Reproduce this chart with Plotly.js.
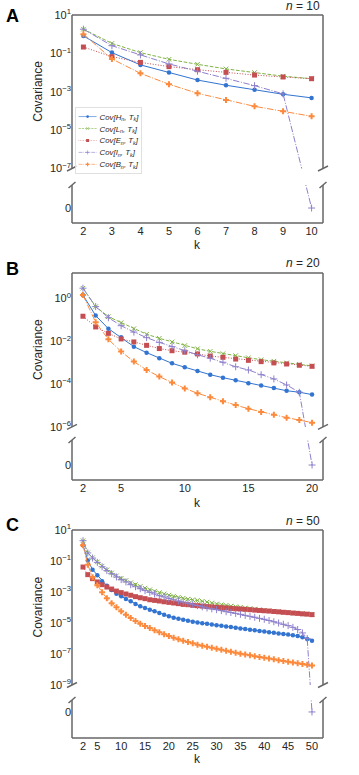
<!DOCTYPE html>
<html>
<head>
<meta charset="utf-8">
<script src="https://cdn.plot.ly/plotly-3.0.1.min.js"></script>
<style>
  html, body { margin: 0; padding: 0; background: #fff; }
  #chart { width: 359px; height: 775px; }
</style>
</head>
<body>
<div id="chart"></div>
<script>
// values are log10 of the covariance; -Infinity is an exact 0
const kN10 = [2, 3, 4, 5, 6, 7, 8, 9, 10];
const logH10 = [-0.09, -0.96, -1.60, -2.00, -2.39, -2.66, -2.90, -3.13, -3.32];
const logL10 = [0.26, -0.48, -0.96, -1.31, -1.57, -1.81, -2.00, -2.19, -2.32];
const logE10 = [-0.67, -1.17, -1.47, -1.69, -1.85, -1.99, -2.13, -2.23, -2.32];
const logI10 = [0.26, -0.60, -1.08, -1.55, -1.93, -2.30, -2.68, -3.11, -Infinity];
const logB10 = [0.00, -1.29, -2.04, -2.61, -3.08, -3.43, -3.76, -4.02, -4.28];

const kN20 = [2, 3, 4, 5, 6, 7, 8, 9, 10, 11, 12, 13, 14, 15, 16, 17, 18, 19, 20];
const logH20 = [0.16, -0.80, -1.41, -1.81, -2.25, -2.53, -2.79, -3.03, -3.21, -3.39,
  -3.56, -3.70, -3.82, -3.96, -4.07, -4.18, -4.31, -4.38, -4.49];
const logL20 = [0.48, -0.38, -0.85, -1.13, -1.41, -1.67, -1.86, -2.03, -2.20, -2.35,
  -2.47, -2.58, -2.67, -2.77, -2.86, -2.93, -3.01, -3.08, -3.15];
const logE20 = [-0.83, -1.33, -1.63, -1.89, -2.03, -2.19, -2.34, -2.44, -2.51, -2.59,
  -2.69, -2.75, -2.83, -2.89, -2.95, -3.01, -3.06, -3.12, -3.17];
const logI20 = [0.48, -0.38, -0.90, -1.27, -1.57, -1.83, -2.05, -2.25, -2.44, -2.63,
  -2.79, -2.98, -3.19, -3.34, -3.56, -3.76, -4.04, -4.38, -Infinity];
const logB20 = [0.16, -1.11, -1.91, -2.48, -2.95, -3.34, -3.65, -3.93, -4.20, -4.43,
  -4.62, -4.80, -4.98, -5.15, -5.30, -5.43, -5.57, -5.68, -5.80];

const kN50 = [2, 3, 4, 5, 6, 7, 8, 9, 10, 11, 12, 13, 14, 15, 16, 17, 18, 19, 20, 21,
  22, 23, 24, 25, 26, 27, 28, 29, 30, 31, 32, 33, 34, 35, 36, 37, 38, 39, 40, 41,
  42, 43, 44, 45, 46, 47, 48, 49, 50];
const logH50 = [0.02, -0.96, -1.56, -1.92, -2.31, -2.60, -2.87, -3.11, -3.28, -3.45,
  -3.60, -3.77, -3.92, -4.03, -4.14, -4.25, -4.35, -4.46, -4.57, -4.66,
  -4.72, -4.79, -4.85, -4.92, -4.96, -5.01, -5.05, -5.10, -5.14, -5.18,
  -5.22, -5.26, -5.31, -5.35, -5.39, -5.43, -5.47, -5.51, -5.55, -5.59,
  -5.63, -5.67, -5.71, -5.75, -5.79, -5.84, -5.92, -6.03, -6.14];
const logL50 = [0.31, -0.47, -0.79, -1.06, -1.33, -1.57, -1.77, -1.96, -2.12, -2.26,
  -2.40, -2.52, -2.64, -2.75, -2.85, -2.95, -3.04, -3.12, -3.20, -3.27,
  -3.34, -3.40, -3.46, -3.50, -3.54, -3.60, -3.65, -3.71, -3.77, -3.82,
  -3.86, -3.91, -3.95, -3.99, -4.03, -4.07, -4.10, -4.14, -4.18, -4.21,
  -4.24, -4.27, -4.30, -4.32, -4.35, -4.38, -4.40, -4.42, -4.44];
const logE50 = [-1.39, -1.88, -2.14, -2.35, -2.53, -2.68, -2.81, -2.94, -3.04, -3.13,
  -3.21, -3.30, -3.37, -3.43, -3.50, -3.54, -3.58, -3.63, -3.67, -3.71,
  -3.75, -3.80, -3.82, -3.86, -3.88, -3.91, -3.94, -3.96, -3.99, -4.01,
  -4.03, -4.06, -4.08, -4.10, -4.12, -4.14, -4.17, -4.19, -4.21, -4.23,
  -4.26, -4.28, -4.31, -4.33, -4.36, -4.38, -4.41, -4.43, -4.46];
const logI50 = [0.31, -0.48, -0.81, -1.09, -1.37, -1.62, -1.82, -2.03, -2.20, -2.35,
  -2.53, -2.66, -2.79, -2.91, -3.02, -3.13, -3.24, -3.32, -3.41, -3.50,
  -3.58, -3.65, -3.73, -3.79, -3.88, -3.96, -4.03, -4.09, -4.14, -4.20,
  -4.27, -4.32, -4.38, -4.44, -4.51, -4.57, -4.63, -4.70, -4.76, -4.84,
  -4.92, -5.00, -5.08, -5.17, -5.28, -5.42, -5.64, -6.00, -Infinity];
const logB50 = [0.01, -1.24, -2.05, -2.57, -3.02, -3.41, -3.73, -3.99, -4.25, -4.46,
  -4.68, -4.87, -5.05, -5.19, -5.32, -5.47, -5.60, -5.73, -5.84, -5.95,
  -6.05, -6.14, -6.23, -6.31, -6.40, -6.47, -6.54, -6.60, -6.66, -6.73,
  -6.79, -6.85, -6.92, -6.98, -7.03, -7.08, -7.14, -7.19, -7.24, -7.29,
  -7.34, -7.40, -7.45, -7.50, -7.55, -7.60, -7.65, -7.70, -7.75];

const seriesNames = [
  '<i>Cov[H<sub>n</sub>, T<sub>k</sub>]</i>',
  '<i>Cov[L<sub>n</sub>, T<sub>k</sub>]</i>',
  '<i>Cov[E<sub>n</sub>, T<sub>k</sub>]</i>',
  '<i>Cov[I<sub>n</sub>, T<sub>k</sub>]</i>',
  '<i>Cov[B<sub>n</sub>, T<sub>k</sub>]</i>',
];

const FONT = 'Liberation Sans, Arial, sans-serif';
const TEXT = '#262626';
const FRAME = '#666666';
const W = 359, H = 775, PL = 72, PR = 36;
const LEGEND_LEFT = 75, LEGEND_TOP = 107, LEGEND_SCALE = 0.6;

// matplotlib-ish dash patterns for lw 1
const styles = [
  { color: '#3274d0', dash: 'solid', symbol: 'circle', size: 4.5 },
  { color: '#7fb343', dash: '3.7px,1.6px', symbol: 'x-thin-open', size: 4.5 },
  { color: '#c44e52', dash: '1px,1.65px', symbol: 'square', size: 5 },
  { color: '#8e80cc', dash: '6.4px,1.6px,1px,1.6px', symbol: 'cross-thin-open', size: 5 },
  { color: '#fd8a3c', dash: '6.4px,1.6px,1px,1.6px', symbol: 'cross', size: 5 },
];

// broken y axis per panel: one log axis, the gap is painted over,
// 0 is drawn at the "zero" level of the lower stub
const panels = [
  { n: 10, k: kN10, logs: [logH10, logL10, logE10, logI10, logB10],
    top: 15, bottom: 223, hi: 1, lo: -9.84, brkUp: -7, brkLow: -7.86, zero: -9.06,
    yticks: [1, -1, -3, -5, -7], xrange: [1.6, 10.4], xticks: kN10,
    letter: 'A', letterY: 16, nY: 6.3, kY: 245 },
  { n: 20, k: kN20, logs: [logH20, logL20, logE20, logI20, logB20],
    top: 273, bottom: 480, hi: 1.19, lo: -8.48, brkUp: -6, brkLow: -6.61, zero: -7.78,
    yticks: [0, -2, -4, -6], xrange: [1.14, 20.86], xticks: [2, 5, 10, 15, 20],
    letter: 'B', letterY: 269, nY: 263.3, kY: 503 },
  { n: 50, k: kN50, logs: [logH50, logL50, logE50, logI50, logB50],
    top: 530, bottom: 738, hi: 1, lo: -12.42, brkUp: -9, brkLow: -9.97, zero: -10.74,
    yticks: [1, -1, -3, -5, -7, -9], xrange: [-0.31, 52.31],
    xticks: [2, 5, 10, 15, 20, 25, 30, 35, 40, 45, 50],
    letter: 'C', letterY: 524.5, nY: 521, kY: 759.3 },
];

const px2x = px => (px - PL) / (W - PL - PR);
const px2y = py => 1 - py / H;
const sup = e => '10<sup>' + (e < 0 ? '\u2212' + (-e) : e) + '</sup>';

const traces = [];
const shapes = [];
const annotations = [];
const layout = {
  width: W, height: H,
  margin: { l: PL, r: PR, t: 0, b: 0 },
  paper_bgcolor: '#fff', plot_bgcolor: '#fff',
  font: { family: FONT, color: TEXT, size: 11 },
  showlegend: true,
  legend: {
    x: px2x(LEGEND_LEFT), y: px2y(LEGEND_TOP), xanchor: 'left', yanchor: 'top',
    font: { family: FONT, size: 13, color: TEXT },
    bgcolor: 'rgba(255,255,255,0.8)', bordercolor: '#cccccc', borderwidth: 1,
    itemwidth: 30, tracegroupgap: 0,
  },
};

panels.forEach((p, i) => {
  const sfx = i === 0 ? '' : String(i + 1);
  const xa = 'x' + sfx, ya = 'y' + sfx;
  const frac = v => (v - p.lo) / (p.hi - p.lo);
  const fUp = frac(p.brkUp), fLow = frac(p.brkLow);
  const hpx = p.bottom - p.top, wpx = W - PL - PR;

  layout['xaxis' + sfx] = {
    domain: [0, 1], anchor: ya, range: p.xrange,
    tickmode: 'array', tickvals: p.xticks, ticks: '',
    showgrid: false, zeroline: false, showline: false,
    tickfont: { size: 11, color: TEXT },
  };
  layout['yaxis' + sfx] = {
    domain: [px2y(p.bottom), px2y(p.top)], anchor: xa,
    type: 'log', range: [p.lo, p.hi],
    tickmode: 'array',
    tickvals: p.yticks.map(e => 10 ** e).concat([10 ** p.zero]),
    ticktext: p.yticks.map(sup).concat(['0']),
    ticks: '', showgrid: false, zeroline: false, showline: false,
    tickfont: { size: 11, color: TEXT },
  };

  p.logs.forEach((logs, s) => {
    const st = styles[s];
    const cov = logs.map(v => 10 ** v);
    traces.push({
      type: 'scatter', mode: 'lines+markers',
      x: p.k, y: cov.map(c => (c > 0 ? c : 10 ** p.zero)),
      xaxis: xa, yaxis: ya,
      name: seriesNames[s], showlegend: i === 0,
      line: { color: st.color, width: 1, dash: st.dash },
      marker: {
        symbol: st.symbol, size: st.size, color: st.color,
        line: { width: st.symbol.endsWith('open') ? 1 : 0, color: st.color },
      },
    });
  });

  const xr = xa + ' domain', yr = ya + ' domain';
  const line = (x0, y0, x1, y1) => ({
    type: 'line', xref: xr, yref: yr, x0, y0, x1, y1, layer: 'above',
    line: { color: FRAME, width: 1.5 },
  });
  // paint out the gap between the two stubs
  shapes.push({
    type: 'rect', xref: xr, yref: yr, x0: -0.005, x1: 1.005, y0: fLow, y1: fUp,
    layer: 'above', fillcolor: '#fff', line: { width: 0 },
  });
  shapes.push(line(0, 1, 1, 1), line(0, 0, 1, 0));
  shapes.push(line(0, fUp, 0, 1), line(1, fUp, 1, 1));
  shapes.push(line(0, 0, 0, fLow), line(1, 0, 1, fLow));
  // break marks
  const dxU = 5 / wpx, dyU = 2.5 / hpx, dxL = 3.5 / wpx, dyL = 3 / hpx;
  [0, 1].forEach(ex => {
    shapes.push(line(ex - dxU, fUp - dyU, ex + dxU, fUp + dyU));
    shapes.push(line(ex - dxL, fLow - dyL, ex + dxL, fLow + dyL));
  });

  const upperMid = (p.top + (p.top + (1 - fUp) * hpx)) / 2;
  annotations.push(
    { xref: 'paper', yref: 'paper', x: px2x(12), y: px2y(p.letterY),
      xanchor: 'center', yanchor: 'middle', showarrow: false,
      text: '<b>' + p.letter + '</b>', font: { size: 18, color: '#000', family: FONT } },
    { xref: 'paper', yref: 'paper', x: px2x(322), y: px2y(p.nY),
      xanchor: 'right', yanchor: 'middle', showarrow: false,
      text: '<i>n</i> = ' + p.n, font: { size: 12, color: TEXT, family: FONT } },
    { xref: 'paper', yref: 'paper', x: px2x(38), y: px2y(upperMid),
      xanchor: 'center', yanchor: 'middle', showarrow: false, textangle: -90,
      text: 'Covariance', font: { size: 12, color: TEXT, family: FONT } },
    { xref: 'paper', yref: 'paper', x: px2x(197.5), y: px2y(p.kY),
      xanchor: 'center', yanchor: 'middle', showarrow: false,
      text: 'k', font: { size: 12, color: TEXT, family: FONT } }
  );
});

layout.shapes = shapes;
layout.annotations = annotations;

Plotly.newPlot('chart', traces, layout, { staticPlot: true, displayModeBar: false })
  .then(gd => {
    // plotly keeps legend rows at least 16px tall; shrink the whole box instead
    const leg = gd.querySelector('g.legend');
    if (leg) {
      leg.setAttribute('transform',
        `translate(${LEGEND_LEFT},${LEGEND_TOP}) scale(${LEGEND_SCALE})`);
    }
  });
</script>
</body>
</html>
